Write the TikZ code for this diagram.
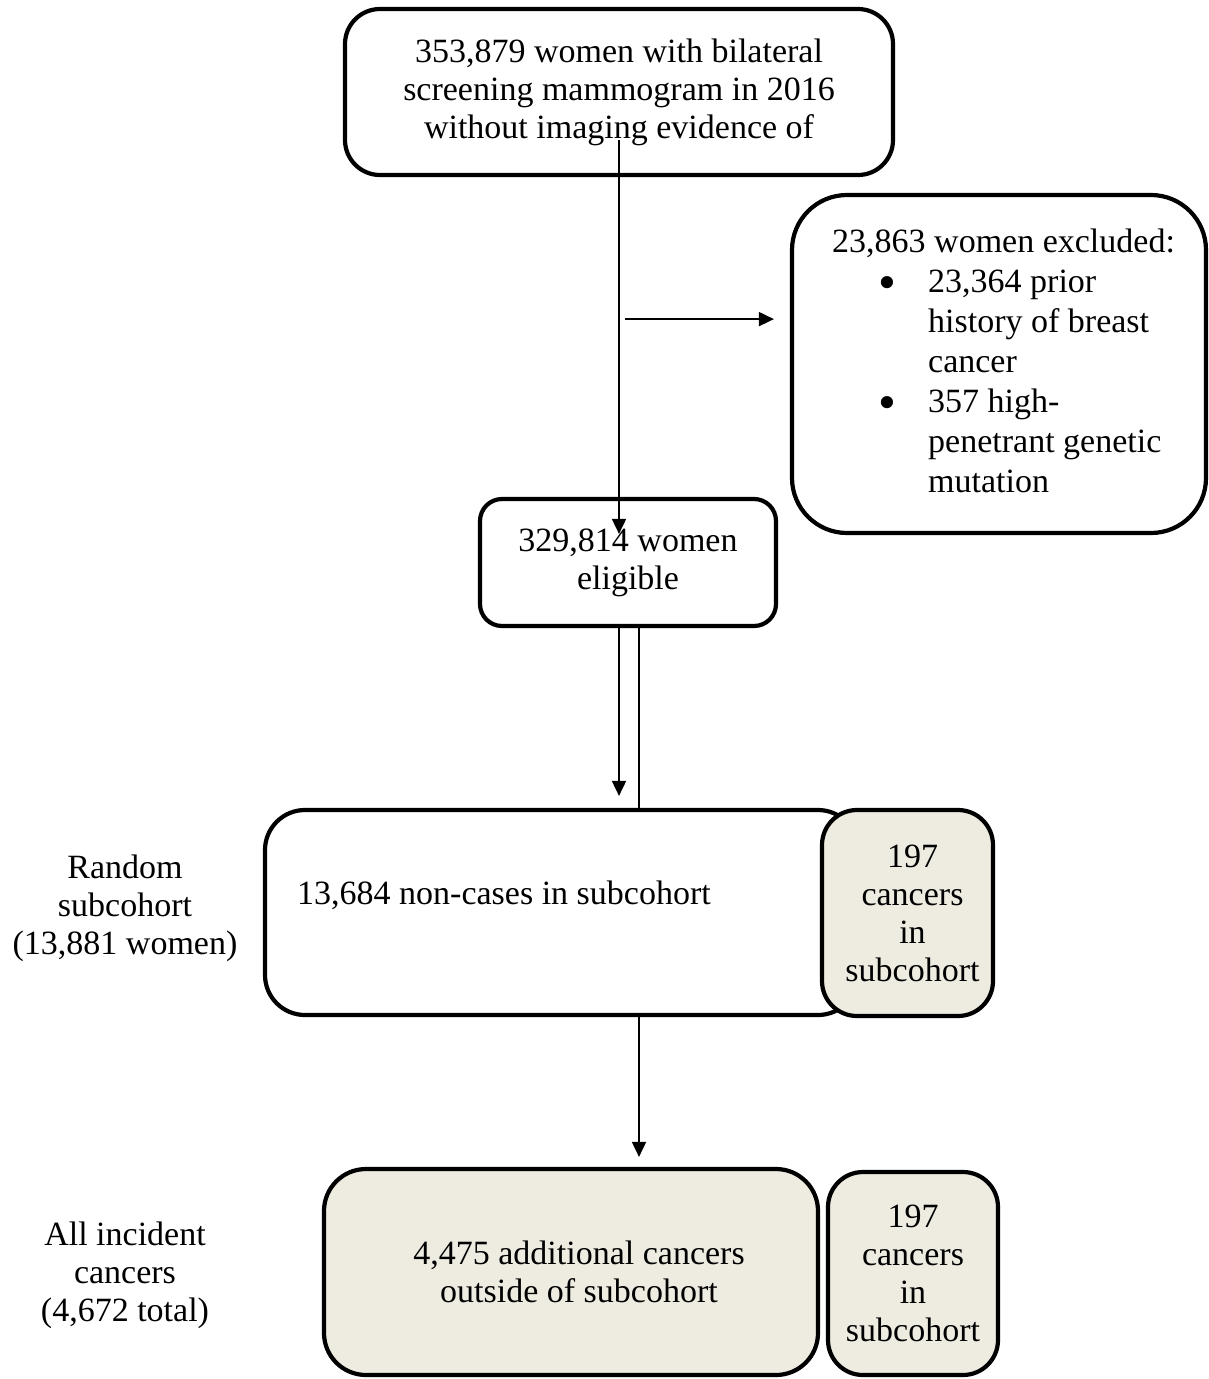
\documentclass[tikz,border=0pt]{standalone}
\usepackage{fontspec}
\setmainfont{Liberation Serif}
\usetikzlibrary{arrows.meta,positioning,calc}
\definecolor{tan}{RGB}{238,236,225}
\definecolor{ink}{RGB}{0,0,0}
\tikzset{
  >={Triangle[length=15pt,width=14pt]},
  box/.style={draw=ink,line width=4.2pt,rounded corners=#1,align=center,inner sep=0pt,
    font=\fontsize{34}{38}\selectfont},
  box/.default=35pt,
  tanbox/.style={box=#1,fill=tan},
  tanbox/.default=35pt,
  flow/.style={->,line width=1.8pt,draw=ink},
  rule/.style={line width=1.3pt,draw=ink},
  tag/.style={align=center,inner sep=0pt,font=\fontsize{34}{38}\selectfont},
}
\newcommand{\bul}{\makebox[96pt][l]{\hspace*{46pt}\raisebox{-7pt}[0pt][0pt]{\scalebox{1.5}{\textbullet}}}}
\newcommand{\ind}{\hspace*{96pt}}
\begin{document}
\begin{tikzpicture}[x=1pt,y=-1pt]
  \useasboundingbox (0,0) rectangle (1209,1379);
  % boxes
  \node[box=35pt,minimum width=548pt,minimum height=166pt] (screen) at (619,92)
    {353,879 women with bilateral\\screening mammogram in 2016\\without imaging evidence of};
  \node[box=55pt,minimum width=414pt,minimum height=338pt] (excl) at (999,364) {};
  \node[tag,anchor=north west,align=left,font=\fontsize{34}{40}\selectfont] (excltxt) at (832,229)
    {23,863 women excluded:\\
     \bul 23,364 prior\\
     \ind history of breast\\
     \ind cancer\\
     \bul 357 high-\\
     \ind penetrant genetic\\
     \ind mutation};
  \node[box=22pt,minimum width=296pt,minimum height=127pt] (elig) at (628,562.5)
    {329,814 women\\eligible};
  \node[box=40pt,minimum width=593pt,minimum height=205pt] (sub) at (561.5,912.5) {};
  \node[tag,anchor=base west] (subtxt) at (297,904) {13,684 non-cases in subcohort};
  \node[tanbox=35pt,minimum width=171pt,minimum height=206pt] (subca) at (907.5,913)
    {\hspace*{10pt}197\\\hspace*{10pt}cancers\\\hspace*{10pt}in\\\hspace*{10pt}subcohort};
  \node[tanbox=42pt,minimum width=494pt,minimum height=206pt] (cases) at (571,1272)
    {\hspace*{16pt}4,475 additional cancers\\\hspace*{16pt}outside of subcohort};
  \node[tanbox=35pt,minimum width=170pt,minimum height=203pt] (caseca) at (913,1273.5)
    {197\\cancers\\in\\subcohort};
  \node[tag] (rand) at (125,908) {Random\\subcohort\\(13,881 women)};
  \node[tag] (inc) at (125,1275) {All incident\\cancers\\(4,672 total)};
  % connectors
  \draw[flow] ([yshift=37pt]screen.south) -- ([yshift=-37pt]screen.south |- elig.north);
  \coordinate (branch) at ([xshift=6pt,yshift=-142pt]screen.south);
  \draw[flow] (branch) -- ([xshift=-16pt]branch -| excl.west);
  \draw[flow] ([xshift=-9pt]elig.south) -- ([xshift=-9pt,yshift=12pt]elig.south |- sub.north);
  \draw[rule] ([xshift=11pt]elig.south) -- ([xshift=11pt]elig.south |- sub.north);
  \draw[flow] ([xshift=11pt]elig.south |- sub.south) -- ([xshift=11pt,yshift=10pt]elig.south |- cases.north);
\end{tikzpicture}
\end{document}
